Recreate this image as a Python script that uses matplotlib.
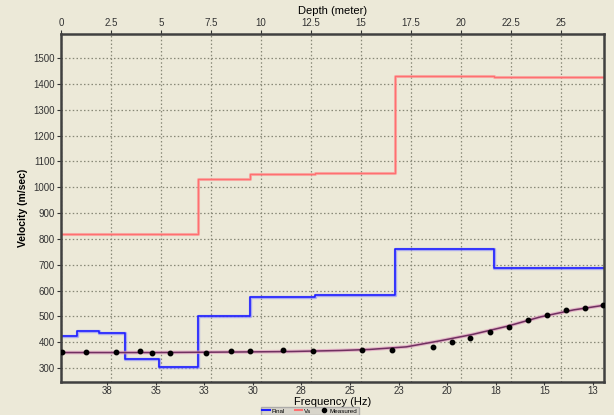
import numpy as np
import matplotlib
matplotlib.use("Agg")
import matplotlib.pyplot as plt
from matplotlib.lines import Line2D

plt.rcParams['font.family'] = ['Liberation Sans', 'DejaVu Sans']

# layer boundaries (depth, m) and layer velocities (m/sec)
depth_bounds = [0, 0.8, 1.9, 3.2, 4.9, 6.85, 9.45, 12.7, 16.7, 21.65, 27.15]
vs_final = [425, 443, 435, 335, 305, 500, 576, 583, 760, 686]
vs_init = [820, 820, 820, 820, 820, 1030, 1050, 1055, 1432, 1428]

# measured dispersion points
meas_freq = [39.83, 38.6, 37.05, 35.8, 35.2, 34.24, 32.42, 31.14, 30.16, 28.45, 26.9,
             24.38, 22.82, 20.75, 19.77, 18.81, 17.81, 16.84, 15.86, 14.87, 13.89, 12.91, 11.99]
meas_vel = [361, 362, 363, 365, 359, 358, 359, 366, 366, 368, 367,
            370, 370, 381, 401, 417, 439, 460, 485, 506, 523, 533, 545]

# theoretical dispersion curve
fit_freq = [39.87, 35, 31, 28, 25.5, 24, 22.1, 20.4, 18.7, 16.9, 15.2, 13.5, 11.93]
fit_vel = [360, 360, 362, 364, 368, 372, 382, 405, 430, 462, 498, 525, 543]

depth_ticks = [0, 2.5, 5, 7.5, 10, 12.5, 15, 17.5, 20, 22.5, 25]
vel_ticks = list(range(300, 1600, 100))
freq_ticks = [37.5, 35, 32.5, 30, 27.5, 25, 22.5, 20, 17.5, 15, 12.5]

bg = '#ECE9D8'
fig = plt.figure(figsize=(6.14, 4.15), dpi=100, facecolor=bg)
ax = fig.add_axes([61/614, 1-382/415, (604-61)/614, (382-34)/415])
ax.set_facecolor(bg)
ax2 = ax.twiny()
ax2.set_facecolor('none')

# step profiles
ax.step(depth_bounds, vs_init + [vs_init[-1]], where='post', color='#FF9090', lw=2.2, alpha=0.6)
ax.step(depth_bounds, vs_init + [vs_init[-1]], where='post', color='#FF7070', lw=1.0)
ax.step(depth_bounds, vs_final + [vs_final[-1]], where='post', color='#8080FF', lw=2.4, alpha=0.6)
ax.step(depth_bounds, vs_final + [vs_final[-1]], where='post', color='#2020FF', lw=1.2)

ax.set_xlim(0, 27.15)
ax.set_ylim(246, 1593)
ax.xaxis.tick_top()
ax.xaxis.set_label_position('top')
ax.set_xticks(depth_ticks)
ax.set_xticklabels([('%g' % t) for t in depth_ticks])
ax.set_yticks(vel_ticks)
ax.set_xlabel('Depth (meter)', fontsize=8)
ax.xaxis.set_label_coords(0.5, 1 + 20/348)
ax.set_ylabel('Velocity (m/sec)', fontsize=7.5, fontweight='bold', labelpad=4)
ax.tick_params(labelsize=7, colors='#333333', length=3, width=0.8, pad=1.5)
ax.grid(True, color='#888877', linestyle=(0, (1.2, 1.8)), lw=0.9)
ax.set_axisbelow(True)
for s in ax.spines.values():
    s.set_linewidth(1.8)
    s.set_color('#404040')

# frequency axis
ax2.plot(fit_freq, fit_vel, color='#E0A0C0', lw=2.6, alpha=0.7)
ax2.plot(fit_freq, fit_vel, color='#703060', lw=1.1)
ax2.plot(meas_freq, meas_vel, 'o', color='black', ms=3.2, ls='none')
ax2.set_xlim(39.87, 11.93)
ax2.xaxis.tick_bottom()
ax2.xaxis.set_label_position('bottom')
ax2.set_xticks(freq_ticks)
ax2.set_xticklabels([str(int(np.floor(t + 0.5))) for t in freq_ticks])
ax2.set_xlabel('Frequency (Hz)', fontsize=8)
ax2.xaxis.set_label_coords(0.5, -15/348)
ax2.tick_params(labelsize=7, colors='#333333', length=2, width=0.8, pad=1)
for s in ax2.spines.values():
    s.set_visible(False)

handles = [Line2D([], [], color='#2020FF', lw=1.5),
           Line2D([], [], color='#FF7070', lw=1.5),
           Line2D([], [], color='black', marker='o', ms=3, ls='none')]
leg = fig.legend(handles, ['Final', 'Vs', 'Measured'], loc='upper center',
                 bbox_to_anchor=(310/614, 1-407/415), ncol=3, fontsize=4.5,
                 frameon=True, fancybox=False, handlelength=1.2, columnspacing=1.5,
                 borderpad=0.2, handletextpad=0.3, borderaxespad=0)
leg.get_frame().set_facecolor('#D4D0C8')
leg.get_frame().set_edgecolor('#A0A0A0')

fig.savefig('out.png', dpi=100, facecolor=bg)
